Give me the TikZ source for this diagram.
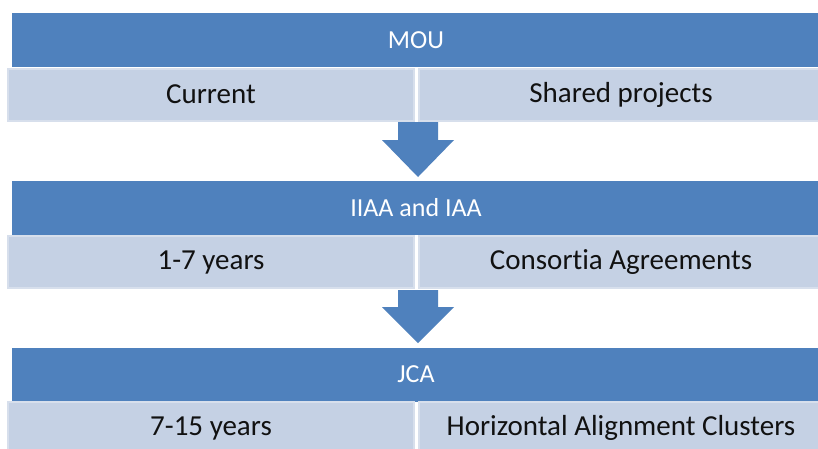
\documentclass[tikz,border=0pt]{standalone}
\usepackage{fontspec}
\setmainfont{Carlito}[Ligatures={NoCommon}]
\definecolor{hdrblue}{HTML}{4F81BD}
\definecolor{cellfill}{HTML}{C5D1E4}
\definecolor{cellline}{HTML}{D7DFEC}
\definecolor{celltext}{HTML}{111111}
\begin{document}
\begin{tikzpicture}[x=1pt,y=-1pt,
  hdr/.style={fill=hdrblue, text=white, inner sep=0pt, outer sep=0pt,
    minimum width=808pt, minimum height=54pt,
    font=\fontsize{26}{30}\selectfont},
  cell/.style={fill=cellfill, draw=cellline, line width=2pt, text=celltext,
    inner sep=0pt, outer sep=0pt, minimum height=52pt,
    font=\fontsize{29}{34}\selectfont},
  lcell/.style={cell, minimum width=406pt},
  rcell/.style={cell, minimum width=404pt},
  flowarrow/.style={fill=hdrblue}]
\useasboundingbox (0,0) rectangle (818,448);
\fill[white] (0,0) rectangle (818,448);
% row 1
\node[hdr] (h1) at (416,40) {MOU};
\node[lcell] (l1) at (211,94.5) {Current};
\node[rcell] (r1) at (621,94.5) {Shared projects};
% row 2
\node[hdr] (h2) at (416,208) {IIAA and IAA};
\node[lcell] (l2) at (211,262) {1-7 years};
\node[rcell] (r2) at (621,262) {Consortia Agreements};
% row 3
\node[hdr] (h3) at (416,374.5) {JCA};
\node[lcell] (l3) at (211,428) {7-15 years};
\node[rcell] (r3) at (621,428) {Horizontal Alignment Clusters};
% arrows
\coordinate (a1) at (418,122);
\coordinate (a2) at (418,290);
\fill[flowarrow] (a1) ++(-20,0) -- ++(40,0) -- ++(0,18) -- ++(16,0)
  -- ++(-36,37) -- ++(-36,-37) -- ++(16,0) -- cycle;
\fill[flowarrow] (a2) ++(-20,0) -- ++(40,0) -- ++(0,17) -- ++(16,0)
  -- ++(-36,36) -- ++(-36,-36) -- ++(16,0) -- cycle;
\end{tikzpicture}
\end{document}
